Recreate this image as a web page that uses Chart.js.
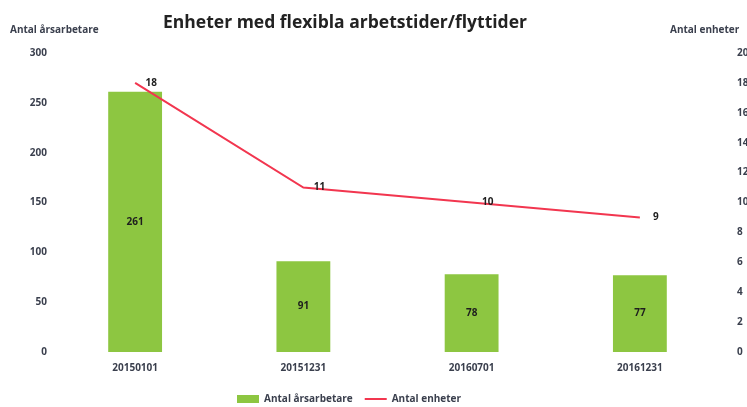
<!DOCTYPE html>
<html>
<head>
<meta charset="utf-8">
<script src="https://cdn.jsdelivr.net/npm/chart.js@4/dist/chart.umd.min.js"></script>
<style>
    body { margin: 0; overflow: hidden; background: #fff; }
    #wrap { width: 770px; height: 407px; }
</style>
</head>
<body>
<div id="wrap"><canvas id="chart" width="770" height="407"></canvas></div>
<script>
// Chart data
const categories = ['20150101', '20151231', '20160701', '20161231'];
const arsarbetare = [261, 91, 78, 77];
const enheter = [18, 11, 10, 9];
const leftTicks = [0, 50, 100, 150, 200, 250, 300];
const rightTicks = [0, 2, 4, 6, 8, 10, 12, 14, 16, 18, 20];

const textColor = '#3a3f4d';
const tickFont = { family: 'Open Sans', size: 10, weight: 'bold' };

// Titles and value labels drawn on top of the chart
const labelPlugin = {
    id: 'labelPlugin',
    afterLayout(chart) {
        // the legend sits a bit left of the canvas centre and low
        chart.legend.left -= 36;
        chart.legend.right -= 36;
        chart.legend.top += 7;
        chart.legend.bottom += 7;
    },
    afterDatasetsDraw(chart) {
        const ctx = chart.ctx;
        ctx.save();
        ctx.fillStyle = '#1e1e1e';
        ctx.font = 'bold 10px "Open Sans"';
        ctx.textAlign = 'center';
        ctx.textBaseline = 'middle';

        // bar labels
        chart.getDatasetMeta(0).data.forEach((bar, i) => {
            const y = (bar.y + bar.base) / 2;
            ctx.fillText(arsarbetare[i], bar.x, y);
        });

        // line labels, just right of each point
        chart.getDatasetMeta(1).data.forEach((pt, i) => {
            ctx.fillText(enheter[i], pt.x + 16, pt.y);
        });

        // chart title
        ctx.fillStyle = '#222';
        ctx.font = 'bold 17.5px "Open Sans"';
        ctx.fillText('Enheter med flexibla arbetstider/flyttider', 345, 23);

        // axis titles
        ctx.fillStyle = textColor;
        ctx.font = 'bold 10px "Open Sans"';
        ctx.textAlign = 'left';
        ctx.fillText('Antal årsarbetare', 10, 30);
        ctx.fillText('Antal enheter', 670, 30);
        ctx.restore();
    }
};

const ctx = document.getElementById('chart').getContext('2d');
new Chart(ctx, {
    data: {
        labels: categories,
        datasets: [{
            type: 'bar',
            label: 'Antal årsarbetare',
            data: arsarbetare,
            backgroundColor: '#8dc641',
            borderWidth: 0,
            barPercentage: 0.32,
            categoryPercentage: 1,
            yAxisID: 'y',
            pointStyle: 'rect',
            order: 2
        }, {
            type: 'line',
            label: 'Antal enheter',
            data: enheter,
            borderColor: '#f2364f',
            backgroundColor: '#f2364f',
            borderWidth: 2,
            pointRadius: 0,
            pointStyle: 'line',
            tension: 0,
            yAxisID: 'y1',
            order: 1
        }]
    },
    options: {
        responsive: false,
        animation: false,
        layout: { padding: { top: 53, left: 0, right: 0, bottom: 0 } },
        plugins: {
            legend: {
                position: 'bottom',
                labels: {
                    usePointStyle: true,
                    pointStyleWidth: 22,
                    boxHeight: 8,
                    padding: 12,
                    color: textColor,
                    font: tickFont,
                    sort: (a, b) => a.datasetIndex - b.datasetIndex
                }
            },
            tooltip: { enabled: false }
        },
        scales: {
            x: {
                offset: true,
                grid: { display: false, drawTicks: false },
                border: { display: false },
                ticks: { color: textColor, font: tickFont, padding: 10, maxRotation: 0 },
                afterFit: (scale) => { scale.height = 23; }
            },
            y: {
                position: 'left',
                min: 0,
                max: 300,
                afterBuildTicks: (scale) => { scale.ticks = leftTicks.map(v => ({ value: v })); },
                grid: { display: false, drawTicks: false },
                border: { display: false },
                ticks: { color: textColor, font: tickFont, padding: 4 },
                afterFit: (scale) => { scale.width = 51; }
            },
            y1: {
                position: 'right',
                min: 0,
                max: 20,
                afterBuildTicks: (scale) => { scale.ticks = rightTicks.map(v => ({ value: v })); },
                grid: { display: false, drawTicks: false },
                border: { display: false },
                ticks: { color: textColor, font: tickFont, padding: 13 },
                afterFit: (scale) => { scale.width = 46; }
            }
        }
    },
    plugins: [labelPlugin]
});
</script>
</body>
</html>
